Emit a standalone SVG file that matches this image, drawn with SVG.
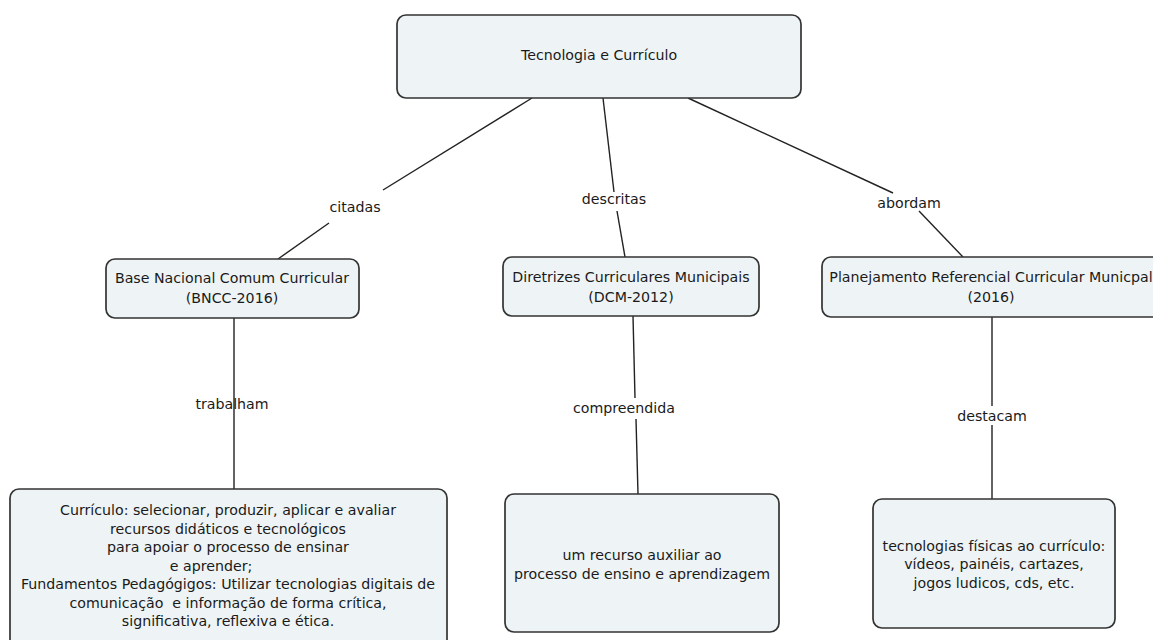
<svg xmlns="http://www.w3.org/2000/svg" width="1153" height="640" viewBox="0 0 1153 640">
  <style>
    .box { fill: #eef4f6; stroke: #333333; stroke-width: 1.7; }
    .lbl { font-family: "DejaVu Sans", Verdana, sans-serif; font-size: 14.2px; fill: #1a1a1a; text-anchor: middle; }
    .link { stroke: #222222; stroke-width: 1.4; fill: none; }
  </style>
  <rect width="1153" height="640" fill="#ffffff"/>

  <!-- connectors: concept to linking phrase, linking phrase to concept -->
  <g id="connectors">
    <line class="link" x1="532" y1="98" x2="383" y2="190"/>
    <line class="link" x1="329" y1="223" x2="278" y2="259"/>
    <line class="link" x1="603" y1="98" x2="614" y2="192"/>
    <line class="link" x1="617" y1="211" x2="625" y2="257"/>
    <line class="link" x1="688" y1="98" x2="893" y2="193"/>
    <line class="link" x1="919" y1="211" x2="963" y2="257"/>
    <line class="link" x1="234" y1="318" x2="234" y2="489"/>
    <line class="link" x1="633" y1="316" x2="635" y2="398"/>
    <line class="link" x1="636" y1="419" x2="638" y2="494"/>
    <line class="link" x1="992" y1="317" x2="992" y2="406"/>
    <line class="link" x1="992" y1="425" x2="992" y2="499"/>
    <text class="lbl" x="355" y="212">citadas</text>
    <text class="lbl" x="614" y="204">descritas</text>
    <text class="lbl" x="909" y="208">abordam</text>
    <text class="lbl" x="232" y="409">trabalham</text>
    <text class="lbl" x="624" y="413">compreendida</text>
    <text class="lbl" x="992" y="421">destacam</text>
  </g>

  <g id="tecnologia-curriculo">
    <rect class="box" x="397" y="15" width="404" height="83" rx="9"/>
    <text class="lbl" x="599" y="60">Tecnologia e Currículo</text>
  </g>

  <g id="bncc">
    <rect class="box" x="106" y="259" width="253" height="59" rx="9"/>
    <text class="lbl" x="232" y="283">Base Nacional Comum Curricular</text>
    <text class="lbl" x="232" y="303">(BNCC-2016)</text>
  </g>

  <g id="dcm">
    <rect class="box" x="503" y="257" width="256" height="59" rx="9"/>
    <text class="lbl" x="631" y="282">Diretrizes Curriculares Municipais</text>
    <text class="lbl" x="631" y="302">(DCM-2012)</text>
  </g>

  <g id="prcm">
    <rect class="box" x="822" y="257" width="340" height="60" rx="9"/>
    <text class="lbl" x="991" y="282">Planejamento Referencial Curricular Municpal</text>
    <text class="lbl" x="991" y="302">(2016)</text>
  </g>

  <g id="curriculo-fundamentos">
    <rect class="box" x="10" y="489" width="437" height="165" rx="9"/>
    <text class="lbl" x="228" y="515">Currículo: selecionar, produzir, aplicar e avaliar</text>
    <text class="lbl" x="228" y="533.5">recursos didáticos e tecnológicos</text>
    <text class="lbl" x="228" y="552">para apoiar o processo de ensinar</text>
    <text class="lbl" x="211" y="570.5">e aprender;</text>
    <text class="lbl" x="228" y="589">Fundamentos Pedagógigos: Utilizar tecnologias digitais de</text>
    <text class="lbl" x="228" y="607.5" xml:space="preserve">comunicação  e informação de forma crítica,</text>
    <text class="lbl" x="228" y="626">significativa, reflexiva e ética.</text>
  </g>

  <g id="recurso-auxiliar">
    <rect class="box" x="505" y="494" width="274" height="138" rx="9"/>
    <text class="lbl" x="642" y="560">um recurso auxiliar ao</text>
    <text class="lbl" x="642" y="579">processo de ensino e aprendizagem</text>
  </g>

  <g id="tecnologias-fisicas">
    <rect class="box" x="873" y="499" width="242" height="129" rx="9"/>
    <text class="lbl" x="994" y="550.5">tecnologias físicas ao currículo:</text>
    <text class="lbl" x="994" y="569">vídeos, painéis, cartazes,</text>
    <text class="lbl" x="994" y="587.5">jogos ludicos, cds, etc.</text>
  </g>
</svg>
